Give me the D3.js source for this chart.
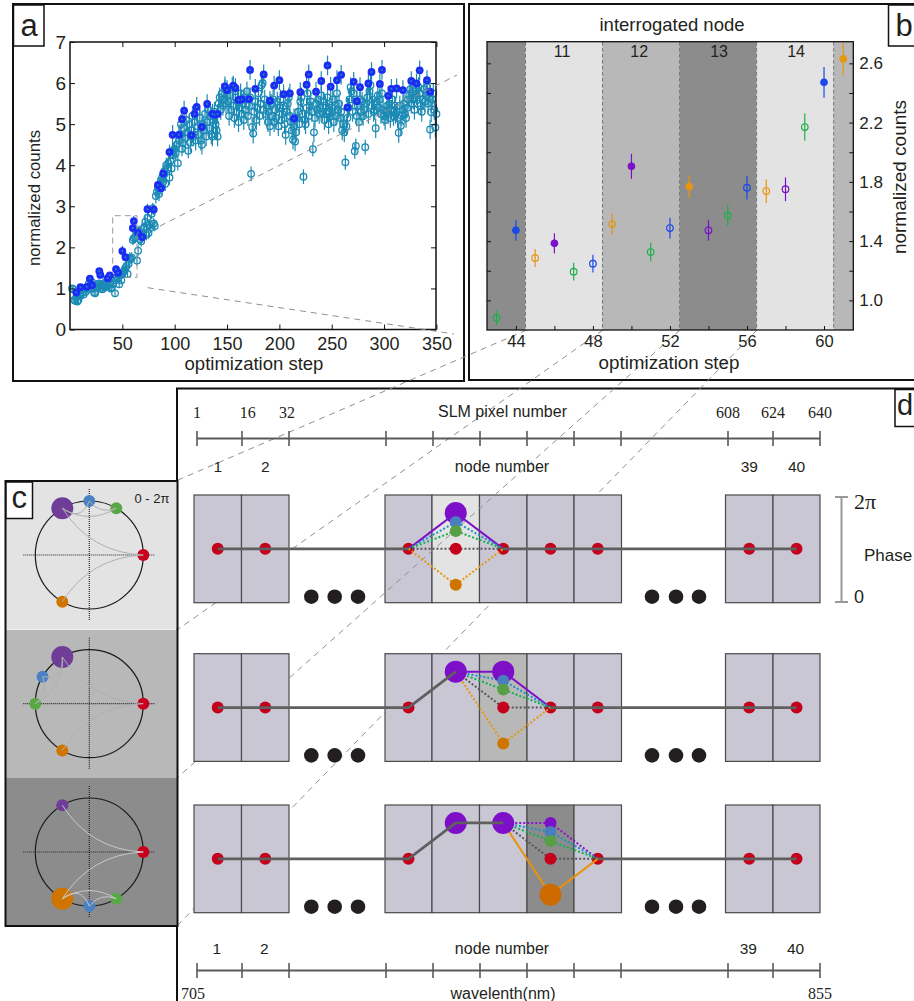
<!DOCTYPE html>
<html lang="en">
<head>
    <meta charset="UTF-8">
    <title>Optimization of node phases</title>
    <script src="https://d3js.org/d3.v7.min.js"></script>
    <style>
        body { margin: 0; background: white; }
        svg { display: block; }
        text { font-family: "Liberation Sans", sans-serif; fill: #231f20; }
        .serif { font-family: "Liberation Serif", serif; }
        .tick text { font-family: "Liberation Sans", sans-serif; fill: #231f20; }
    </style>
</head>
<body>
    <svg width="914" height="1001"></svg>
    <script>
        // panel a: open points run from step 2 to step 350
        var firstOpenStep = 2;
        var openCounts = [
            1.0,0.98,0.72,0.7,0.78,0.68,0.72,0.85,0.82,0.95,0.9,0.85,1.0,0.92,1.02,0.98,1.12,1.08,1.1,1.15,1.0,0.9,0.88,1.02,1.1,
            1.05,1.12,1.0,1.08,0.98,1.1,1.02,1.15,1.05,1.2,1.1,1.15,1.0,1.02,1.1,1.25,0.88,1.2,1.28,1.25,1.1,1.32,1.2,1.35,1.4,
            1.45,1.5,1.55,1.35,1.6,1.75,1.72,1.75,2.18,2.22,2.25,2.42,1.68,1.92,2.4,2.2,2.15,2.28,2.45,2.5,2.62,2.3,2.72,2.35,2.55,
            2.48,2.82,2.95,2.58,2.52,3.25,3.35,3.45,3.3,3.5,3.62,3.7,3.6,3.85,3.55,4.0,3.9,4.05,3.7,4.1,3.92,4.35,4.25,4.4,
            4.3,4.5,4.05,4.6,4.75,5.0,4.4,4.55,4.9,4.65,5.1,4.8,4.35,5.0,4.55,4.85,5.2,4.7,5.05,4.6,5.3,4.95,4.75,5.15,4.6,
            4.5,5.0,4.85,5.25,4.7,5.05,5.35,4.9,5.2,4.75,4.7,5.1,5.3,5.0,4.85,4.7,5.5,5.65,5.35,5.75,5.45,5.6,5.85,5.5,5.7,
            5.55,5.2,5.7,5.35,5.9,5.45,5.15,5.65,5.3,5.55,5.05,5.4,5.75,5.25,5.5,5.1,5.6,5.35,5.8,5.2,
            5.45,5.65,3.79,4.93,4.77,5.3,5.55,5.1,5.4,5.75,5.2,5.5,5.95,6.0,5.35,5.6,5.25,5.45,5.05,5.3,
            4.95,5.5,5.2,5.6,5.05,5.35,5.15,5.55,4.95,5.4,5.6,5.1,5.25,5.45,5.0,4.74,5.3,5.5,5.65,5.2,
            5.05,4.85,4.62,4.95,4.58,4.8,5.15,5.3,5.0,5.55,5.65,5.25,3.72,5.1,5.0,5.4,5.75,5.2,5.45,5.55,
            5.3,4.39,4.8,5.15,5.5,5.35,5.6,5.25,5.4,5.7,5.3,5.55,5.1,5.45,5.25,5.65,5.0,5.3,5.2,5.4,
            5.6,5.05,5.45,5.2,5.75,5.35,5.5,5.15,5.3,4.85,5.0,4.8,4.07,4.95,5.15,5.4,5.6,5.9,5.8,5.3,
            5.75,4.34,4.47,5.2,5.45,5.05,5.6,5.3,5.55,5.2,5.35,4.44,5.5,5.65,5.25,5.8,5.95,5.45,5.6,5.3,
            5.35,4.9,5.55,5.7,5.4,5.6,5.25,5.75,5.35,5.2,5.1,5.3,5.45,5.25,5.5,5.15,5.35,5.6,5.2,5.45,
            5.25,5.3,5.15,4.79,5.45,4.96,5.2,5.35,5.5,5.25,5.15,5.4,5.6,5.7,5.85,5.5,5.75,5.6,5.35,5.8,
            5.7,5.5,5.9,5.75,5.45,5.3,5.6,5.85,5.55,5.7,5.9,5.5,5.65,4.87,5.29,5.6,5.75,5.35,4.92,5.25
        ];
        var filledSteps = [6,10,16,19,21,28,29,36,38,44,46,50,53,60,61,65,69,74,80,84,87,89,95,98,104,107,109,116,119,121,126,131,136,138,141,
            148,150,156,158,161,164,171,172,177,185,191,195,200,204,210,214,220,226,228,235,240,246,249,255,259,265,271,274,277,285,288,296,298,
            304,307,312,318,326,331,334,341,344];
        var filledCounts = [0.9,1.03,1.04,1.24,1.08,1.42,1.33,1.25,1.32,1.47,1.38,1.91,1.76,2.47,2.64,2.36,2.25,2.93,2.92,3.52,3.44,3.8,4.32,4.74,4.74,5.12,5.33,4.73,5.25,5.42,4.93,5.49,5.25,5.23,5.25,
            5.92,5.83,5.94,5.88,5.59,5.6,5.61,6.32,5.86,6.21,5.57,5.94,6.07,5.73,5.75,5.14,5.78,5.96,6.21,5.79,6.05,6.43,5.91,6.07,6.2,5.41,6.03,5.56,5.9,5.99,6.27,5.98,6.32,
            5.69,5.86,5.87,5.83,6.05,5.99,6.31,6.07,5.79];
        var aStepTicks = [50,100,150,200,250,300,350];
        var aCountTicks = [0,1,2,3,4,5,6,7];

        // panel b
        var bSteps = [43,44,45,46,47,48,49,50,51,52,53,54,55,56,57,58,59,60,61];
        var bCounts = [0.882,1.473,1.286,1.385,1.194,1.248,1.515,1.905,1.326,1.488,1.768,1.473,1.574,1.761,1.738,1.75,2.17,2.472,2.63];
        var bErrors = [0.05,0.07,0.06,0.068,0.06,0.06,0.072,0.084,0.063,0.07,0.077,0.07,0.072,0.08,0.08,0.08,0.092,0.104,0.108];
        var bOptions = ["green","blue","orange","purple","green","blue","orange","purple","green","blue","orange","purple","green","blue","orange","purple","green","blue","orange"];
        var bFilled = [0,1,0,1,0,0,0,1,0,0,1,0,0,0,0,0,0,1,1];
        var bStepTicks = [44,46,48,50,52,54,56,58,60];
        var bCountTicks = [1.0,1.2,1.4,1.6,1.8,2.0,2.2,2.4,2.6];
        var bBandEdges = [42.5,44.5,48.5,52.5,56.5,60.5,61.52];
        var bBandShades = ["dark","light","mid","dark","light","mid"];
        var bNodeNames = ["11","12","13","14"];
        var bNodeSteps = [46.4,50.4,54.55,58.55];

        // panel c: phases in degrees, drawn on the unit circle
        var optionNames = ["purple","blue","green","red","orange"];
        var cPhases = [
            [120,90,60,0,240],
            [120,150,180,0,240],
            [120,270,300,0,240]
        ];
        var cBest = ["purple","purple","orange"];
        var cShades = ["light","mid","dark"];

        // panel d
        var optionPhases = [120,90,60,0,-120];
        var dNodes = [1,2,10,11,12,13,14,39,40];
        var dEdges = [0.5,1.5,2.5,9.5,10.5,11.5,12.5,13.5,14.5,38.5,39.5,40.5];
        var dRowNode = [11,12,13];
        var dRowBest = ["purple","purple","orange"];
        var dRowSettled = [{}, {11:120}, {11:120,12:120}];
        var slmLabels = ["1","16","32","608","624","640"];
        var slmLabelEdges = [0.5,1.62,2.46,38.5,39.5,40.5];
        var nodeLabels = ["1","2","39","40"];
        var nodeLabelValues = [1,2,39,40];

        var svg = d3.select("svg");

        var shade = d3.scaleOrdinal().domain(["light","mid","dark"]).range(["#e3e3e3","#b8b8b8","#8c8c8c"]);
        var bColor = d3.scaleOrdinal().domain(optionNames).range(["#7a10c8","#1c48e8","#1fb04a","#c4001a","#e8950f"]);
        var dotColor = d3.scaleOrdinal().domain(optionNames).range(["#7d0fc9","#4a7fbf","#579f45","#c4001a","#d07400"]);
        var lineColor = d3.scaleOrdinal().domain(optionNames).range(["#8a12d0","#1e90c8","#12b050","#555555","#e8960c"]);
        var cColor = d3.scaleOrdinal().domain(optionNames).range(["#6f3d98","#4a80c4","#58a845","#c8001e","#d07400"]);

        // frames
        function frame(x, y, w, h, sw) {
            svg.append("rect").attr("x", x).attr("y", y).attr("width", w).attr("height", h)
                .attr("fill", "none").attr("stroke", "#111").attr("stroke-width", sw);
        }
        frame(13, 4, 451, 377, 2);
        frame(469, 4, 460, 376, 2);
        frame(177, 388.5, 760, 640, 2);

        function dashed(g, x1, y1, x2, y2) {
            g.append("line").attr("x1", x1).attr("y1", y1).attr("x2", x2).attr("y2", y2)
                .attr("stroke", "#8f8f8f").attr("stroke-width", 1).attr("stroke-dasharray", "6 5");
        }

        // ---------- panel d, back layers ----------
        var nodeX = d3.scaleLinear().domain(dEdges).range([194,241.5,289,385,432,479.5,527,574,621.5,725.5,773,820]);
        var axisX = d3.scaleLinear().domain(dEdges).range([197,242,289,386,433,480,527,574,621,728,773,820]);
        var rowTop = [495,653.7,805];
        var rowHeight = 107.7;

        var connBack = svg.append("g");
        var rowsBack = svg.append("g");
        var connMid = svg.append("g");
        var rowsFront = svg.append("g");

        // connectors between panels b, c
        dashed(connBack, 603, 330, 177, 630);
        dashed(connBack, 757, 330, 177, 926);
        dashed(connBack, 526.7, 330, 178, 480);
        dashed(connMid, 680, 330, 177, 778);

        dRowNode.forEach(function(node, r) {
            var parent = r === 0 ? rowsBack : rowsFront;
            parent.append("g").selectAll("rect").data(dNodes).enter().append("rect")
                .attr("x", function(d) { return nodeX(d - 0.5); })
                .attr("y", rowTop[r])
                .attr("width", function(d) { return nodeX(d + 0.5) - nodeX(d - 0.5); })
                .attr("height", rowHeight)
                .attr("fill", function(d) { return d === node ? shade(cShades[r]) : "#c9c7d4"; })
                .attr("stroke", "#4a4a4a")
                .attr("stroke-width", 1.2);
        });

        // the black dots standing in for the skipped nodes sit above the connectors
        rowTop.forEach(function(top, r) {
            [311.3,334.7,358,652,676,699].forEach(function(x) {
                svg.append("circle").attr("cx", x).attr("cy", top + 101.7).attr("r", 7.3).attr("fill", "#231f20");
            });
        });

        dRowNode.forEach(function(node, r) {
            var yPhase = d3.scaleLinear().domain([-180,180]).range([rowTop[r] + rowHeight, rowTop[r]]);
            var row = svg.append("g");
            var isSettled = function(n) { return dRowSettled[r][n] !== undefined; };
            var phaseOf = function(n) { return dRowSettled[r][n] || 0; };
            var line = d3.line().x(function(d) { return nodeX(d.node); }).y(function(d) { return yPhase(d.phase); });

            var before = dNodes.filter(function(n) { return n < node; }).map(function(n) { return {node: n, phase: phaseOf(n)}; });
            var after = dNodes.filter(function(n) { return n > node; }).map(function(n) { return {node: n, phase: 0}; });
            var from = before[before.length - 1];
            var to = after[0];

            // red nodes lie under every line, the trunk runs over them
            dNodes.forEach(function(n) {
                if (n === node || isSettled(n)) return;
                row.append("circle").attr("cx", nodeX(n)).attr("cy", yPhase(0)).attr("r", 6).attr("fill", dotColor("red"));
            });
            optionNames.forEach(function(name, i) {
                var best = name === dRowBest[r];
                row.append("path")
                    .attr("d", line([from, {node: node, phase: optionPhases[i]}, to]))
                    .attr("fill", "none")
                    .attr("stroke", best ? (name === "orange" ? "#e8920c" : "#7d0fc9") : lineColor(name))
                    .attr("stroke-width", 2)
                    .attr("stroke-dasharray", best ? null : "2 2");
            });
            dNodes.filter(isSettled).forEach(function(n) {
                row.append("circle").attr("cx", nodeX(n)).attr("cy", yPhase(phaseOf(n))).attr("r", 11).attr("fill", "#7d0fc9");
            });
            row.append("path").attr("d", line(before)).attr("fill", "none").attr("stroke", "#5f5f5f").attr("stroke-width", 2.8);
            row.append("path").attr("d", line(after)).attr("fill", "none").attr("stroke", "#5f5f5f").attr("stroke-width", 2.8);
            optionNames.forEach(function(name, i) {
                var best = name === dRowBest[r];
                row.append("circle")
                    .attr("cx", nodeX(node)).attr("cy", yPhase(optionPhases[i]))
                    .attr("r", best ? 11 : 6)
                    .attr("fill", best && name === "orange" ? "#cc6a00" : dotColor(name));
            });
        });

        // axes of panel d
        function nodeAxis(y) {
            var g = svg.append("g");
            g.append("line").attr("x1", axisX(0.5)).attr("x2", axisX(40.5)).attr("y1", y).attr("y2", y)
                .attr("stroke", "#5a5a5a").attr("stroke-width", 2);
            g.selectAll(".t").data(dEdges).enter().append("line").attr("class", "t")
                .attr("x1", function(d) { return axisX(d); }).attr("x2", function(d) { return axisX(d); })
                .attr("y1", y - 7.5).attr("y2", y + 7.5)
                .attr("stroke", "#5a5a5a").attr("stroke-width", 1.6);
        }
        nodeAxis(438.5);
        nodeAxis(970.5);

        svg.selectAll(".slm").data(slmLabels).enter().append("text").attr("class", "slm serif")
            .attr("x", function(d, i) { return axisX(slmLabelEdges[i]); })
            .attr("y", 418).attr("text-anchor", "middle").attr("font-size", 16)
            .text(function(d) { return d; });
        [466,948].forEach(function(y, k) {
            svg.selectAll(".nl" + k).data(nodeLabels).enter().append("text").attr("class", "nl" + k)
                .attr("x", function(d, i) { return nodeX(nodeLabelValues[i]) + (k ? -1 : 0); })
                .attr("y", y + 6).attr("text-anchor", "middle").attr("font-size", 15.5)
                .text(function(d) { return d; });
            svg.append("text").attr("x", 502).attr("y", y + 6).attr("text-anchor", "middle").attr("font-size", 16).text("node number");
        });
        svg.append("text").attr("x", 502.5).attr("y", 417).attr("text-anchor", "middle").attr("font-size", 16).text("SLM pixel number");
        svg.append("text").attr("x", 503).attr("y", 999).attr("text-anchor", "middle").attr("font-size", 16).text("wavelenth(nm)");
        svg.append("text").attr("class", "serif").attr("x", 193).attr("y", 999).attr("text-anchor", "middle").attr("font-size", 16).text("705");
        svg.append("text").attr("class", "serif").attr("x", 820).attr("y", 999).attr("text-anchor", "middle").attr("font-size", 16).text("855");

        // phase bar
        var bar = svg.append("g").attr("stroke", "#999").attr("stroke-width", 2);
        bar.append("line").attr("x1", 841.5).attr("x2", 841.5).attr("y1", 497).attr("y2", 602);
        bar.append("line").attr("x1", 835).attr("x2", 848).attr("y1", 497).attr("y2", 497);
        bar.append("line").attr("x1", 835).attr("x2", 848).attr("y1", 602).attr("y2", 602);
        svg.append("text").attr("class", "serif").attr("x", 854).attr("y", 509).attr("font-size", 22).text("2π");
        svg.append("text").attr("x", 854).attr("y", 603).attr("font-size", 18).text("0");
        svg.append("text").attr("x", 864).attr("y", 561).attr("font-size", 17).text("Phase");

        // ---------- panel a ----------
        var aX = d3.scaleLinear().domain([0,349.6]).range([70,436]);
        var aY = d3.scaleLinear().domain([0,7]).range([329.5,42]);
        var errBand = d3.scaleThreshold().domain([1.5,3,4.5]).range([0.08,0.13,0.18,0.24]);
        var panelA = svg.append("g");

        var openPoints = openCounts.map(function(v, i) { return {step: firstOpenStep + i, count: v}; });
        panelA.selectAll(".oe").data(openPoints).enter().append("line").attr("class", "oe")
            .attr("x1", function(d) { return aX(d.step); }).attr("x2", function(d) { return aX(d.step); })
            .attr("y1", function(d) { return aY(d.count - errBand(d.count)); })
            .attr("y2", function(d) { return aY(d.count + errBand(d.count)); })
            .attr("stroke", "#1b8ab4").attr("stroke-width", 1.2);
        panelA.selectAll(".oc").data(openPoints).enter().append("circle").attr("class", "oc")
            .attr("cx", function(d) { return aX(d.step); })
            .attr("cy", function(d) { return aY(d.count); })
            .attr("r", 3.3).attr("fill", "none").attr("stroke", "#1b8ab4").attr("stroke-width", 1.3);

        var filledPoints = filledCounts.map(function(v, i) { return {step: filledSteps[i], count: v}; });
        panelA.selectAll(".fe").data(filledPoints).enter().append("line").attr("class", "fe")
            .attr("x1", function(d) { return aX(d.step); }).attr("x2", function(d) { return aX(d.step); })
            .attr("y1", function(d) { return aY(d.count - errBand(d.count)); })
            .attr("y2", function(d) { return aY(d.count + errBand(d.count)); })
            .attr("stroke", "#1b8ab4").attr("stroke-width", 1.2);
        panelA.selectAll(".fc").data(filledPoints).enter().append("circle").attr("class", "fc")
            .attr("cx", function(d) { return aX(d.step); })
            .attr("cy", function(d) { return aY(d.count); })
            .attr("r", 3.9).attr("fill", "#1c2cf5");
        panelA.selectAll(".fi").data(filledPoints).enter().append("circle").attr("class", "fi")
            .attr("cx", function(d) { return aX(d.step); })
            .attr("cy", function(d) { return aY(d.count); })
            .attr("r", 1).attr("fill", "#1b8ab4");

        panelA.append("rect").attr("x", 70).attr("y", 42).attr("width", 366).attr("height", 287.5)
            .attr("fill", "none").attr("stroke", "#111").attr("stroke-width", 1.5);
        function styleTicks(g, size) {
            g.select(".domain").remove();
            g.selectAll("line").attr("stroke", "#111").attr("stroke-width", 1);
            g.selectAll("text").attr("font-size", size);
        }
        panelA.append("g").attr("transform", "translate(0,329.5)")
            .call(d3.axisBottom(aX).tickValues(aStepTicks).tickSize(-5).tickPadding(8))
            .call(styleTicks, 18);
        panelA.append("g").attr("transform", "translate(0,42)")
            .call(d3.axisTop(aX).tickValues(aStepTicks).tickSize(-5).tickFormat(""))
            .call(styleTicks, 18);
        panelA.append("g").attr("transform", "translate(70,0)")
            .call(d3.axisLeft(aY).tickValues(aCountTicks).tickSize(-5).tickPadding(4).tickFormat(d3.format("d")))
            .call(styleTicks, 19);
        panelA.append("g").attr("transform", "translate(436,0)")
            .call(d3.axisRight(aY).tickValues(aCountTicks).tickSize(-5).tickFormat(""))
            .call(styleTicks, 19);
        panelA.append("text").attr("x", 254).attr("y", 370).attr("text-anchor", "middle").attr("font-size", 18.5).text("optimization step");
        panelA.append("text").attr("transform", "translate(40,198) rotate(-90)").attr("text-anchor", "middle").attr("font-size", 16.8).text("normalized counts");

        // zoom box and its guide lines
        svg.append("path")
            .attr("d", "M125,277.5H137V215.7H112.7V265")
            .attr("fill", "none").attr("stroke", "#9a9a9a").attr("stroke-width", 1).attr("stroke-dasharray", "6 4");
        dashed(svg, 160, 226, 457, 75);
        dashed(svg, 147.7, 287.7, 454, 334);

        // ---------- panel b ----------
        var bX = d3.scaleLinear().domain([42.5,61.52]).range([487,853.3]);
        var bY = d3.scaleLinear().domain([0.8,2.746]).range([330,41.7]);
        var panelB = svg.append("g");

        panelB.selectAll(".band").data(bBandShades).enter().append("rect").attr("class", "band")
            .attr("x", function(d, i) { return bX(bBandEdges[i]); })
            .attr("y", 41.7)
            .attr("width", function(d, i) { return bX(bBandEdges[i + 1]) - bX(bBandEdges[i]); })
            .attr("height", 288.3)
            .attr("fill", function(d) { return shade(d); });
        panelB.selectAll(".edge").data(bBandEdges.slice(1, -1)).enter().append("line").attr("class", "edge")
            .attr("x1", function(d) { return bX(d); }).attr("x2", function(d) { return bX(d); })
            .attr("y1", 41.7).attr("y2", 330)
            .attr("stroke", "#777").attr("stroke-width", 1).attr("stroke-dasharray", "4 2");
        panelB.selectAll(".nodeName").data(bNodeNames).enter().append("text").attr("class", "nodeName")
            .attr("x", function(d, i) { return bX(bNodeSteps[i]); })
            .attr("y", 56.5).attr("text-anchor", "middle").attr("font-size", 16).text(function(d) { return d; });

        var bPoints = bSteps.map(function(s, i) {
            return {step: s, count: bCounts[i], err: bErrors[i], option: bOptions[i], filled: bFilled[i]};
        });
        panelB.selectAll(".err").data(bPoints).enter().append("line").attr("class", "err")
            .attr("x1", function(d) { return bX(d.step); }).attr("x2", function(d) { return bX(d.step); })
            .attr("y1", function(d) { return bY(d.count - d.err); })
            .attr("y2", function(d) { return bY(d.count + d.err); })
            .attr("stroke", function(d) { return bColor(d.option); }).attr("stroke-width", 1.2);
        panelB.selectAll(".pt").data(bPoints).enter().append("circle").attr("class", "pt")
            .attr("cx", function(d) { return bX(d.step); })
            .attr("cy", function(d) { return bY(d.count); })
            .attr("r", function(d) { return d.filled ? 3.8 : 3.3; })
            .attr("fill", function(d) { return d.filled ? bColor(d.option) : "none"; })
            .attr("stroke", function(d) { return d.filled ? "none" : bColor(d.option); }).attr("stroke-width", 1.2);

        panelB.append("rect").attr("x", 487).attr("y", 41.7).attr("width", 366.3).attr("height", 288.3)
            .attr("fill", "none").attr("stroke", "#111").attr("stroke-width", 1.3);
        panelB.append("g").attr("transform", "translate(0,330)")
            .call(d3.axisBottom(bX).tickValues(bStepTicks).tickSize(-4).tickPadding(5)
                .tickFormat(function(d) { return d % 4 === 0 ? d : ""; }))
            .call(styleTicks, 16.5);
        panelB.append("g").attr("transform", "translate(487,0)")
            .call(d3.axisLeft(bY).tickValues(bCountTicks).tickSize(-4).tickFormat(""))
            .call(styleTicks, 17);
        panelB.append("g").attr("transform", "translate(853.3,0)")
            .call(d3.axisRight(bY).tickValues(bCountTicks).tickSize(-4).tickPadding(6)
                .tickFormat(function(d, i) { return i % 2 === 0 ? d3.format(".1f")(d) : ""; }))
            .call(styleTicks, 17);
        panelB.append("text").attr("x", 672).attr("y", 31).attr("text-anchor", "middle").attr("font-size", 18.5).text("interrogated node");
        panelB.append("text").attr("x", 669).attr("y", 369).attr("text-anchor", "middle").attr("font-size", 18.8).text("optimization step");
        panelB.append("text").attr("transform", "translate(906,177) rotate(-90)").attr("text-anchor", "middle").attr("font-size", 19).text("normalized counts");

        // ---------- panel c ----------
        var cCenterY = [555,703.7,852];
        var cTop = [481,630,778];
        var cRadius = 54;
        var cX = 89.3;
        cPhases.forEach(function(phases, r) {
            var g = svg.append("g");
            var rad = d3.scaleLinear().domain([0,360]).range([0, 2 * Math.PI]);
            var px = function(a) { return cX + cRadius * Math.cos(rad(a)); };
            var py = function(a) { return cCenterY[r] - cRadius * Math.sin(rad(a)); };

            g.append("rect").attr("x", 5).attr("y", cTop[r]).attr("width", 172).attr("height", 148.5).attr("fill", shade(cShades[r]));
            g.append("line").attr("x1", cX - 66).attr("x2", cX + 66).attr("y1", cCenterY[r]).attr("y2", cCenterY[r])
                .attr("stroke", "#222").attr("stroke-dasharray", "1 1").attr("stroke-width", 1.2);
            g.append("line").attr("x1", cX).attr("x2", cX).attr("y1", cCenterY[r] - 66).attr("y2", cCenterY[r] + 65)
                .attr("stroke", "#222").attr("stroke-dasharray", "1 1").attr("stroke-width", 1.2);
            g.append("circle").attr("cx", cX).attr("cy", cCenterY[r]).attr("r", cRadius)
                .attr("fill", "none").attr("stroke", "#1a1a1a").attr("stroke-width", 1.2);

            g.selectAll("circle.node").data(optionNames).enter().append("circle").attr("class", "node")
                .attr("cx", function(d, i) { return px(phases[i]); })
                .attr("cy", function(d, i) { return py(phases[i]); })
                .attr("r", function(d) { return d === cBest[r] ? 11 : 6; })
                .attr("fill", function(d) { return cColor(d); });

            // arcs bow towards the middle of the circle
            var idx = function(name) { return optionNames.indexOf(name); };
            var links = [["red","purple",0.9],["red","orange",0.9],[cBest[r],"blue",0.35],[cBest[r],"green",0.35],["blue","green",0.2]];
            links.forEach(function(l) {
                var a = phases[idx(l[0])], b = phases[idx(l[1])];
                var mx = (px(a) + px(b)) / 2, my = (py(a) + py(b)) / 2;
                var p = d3.path();
                p.moveTo(px(a), py(a));
                p.quadraticCurveTo(mx + (cX - mx) * l[2], my + (cCenterY[r] - my) * l[2], px(b), py(b));
                g.append("path").attr("d", p.toString()).attr("fill", "none")
                    .attr("stroke", r === 2 ? "#c8c8c8" : "#b0b0b0").attr("stroke-width", 1);
            });
        });
        svg.append("text").attr("x", 152).attr("y", 503).attr("text-anchor", "middle").attr("font-size", 13).text("0 - 2π");
        frame(5.5, 481, 172, 445, 2);

        // panel letters
        function letter(x, y, w, h, s, size, tx, ty) {
            svg.append("rect").attr("x", x).attr("y", y).attr("width", w).attr("height", h)
                .attr("fill", "white").attr("stroke", "#111").attr("stroke-width", 1.5);
            svg.append("text").attr("x", tx).attr("y", ty).attr("font-size", size).text(s);
        }
        letter(13.5, 5, 30.5, 41, "a", 31, 20.5, 36);
        letter(888.5, 5, 40, 41, "b", 31, 895.5, 36);
        letter(6, 482, 26.5, 36.5, "c", 31, 11.5, 508);
        letter(895, 389.5, 40, 37, "d", 29, 897, 415);
    </script>
</body>
</html>
